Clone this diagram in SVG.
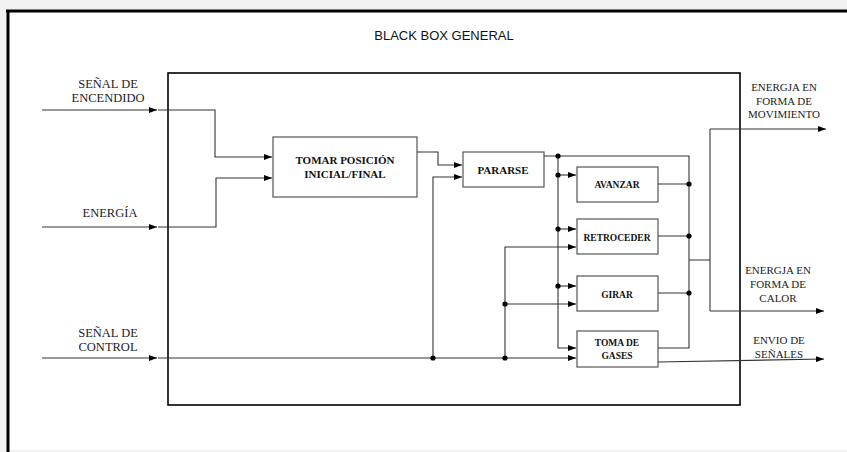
<svg xmlns="http://www.w3.org/2000/svg" width="847" height="452" viewBox="0 0 847 452">
<style>
text{font-family:'Liberation Serif','Times New Roman','DejaVu Serif',serif}
.lbl{font-size:12.5px;fill:#222;text-anchor:middle}
.rlbl{font-size:11px;fill:#222;text-anchor:middle}
.blk{font-weight:bold;fill:#111;text-anchor:middle}
.box{fill:#fff;stroke:#555;stroke-width:1.2}
.wire{fill:none;stroke:#333;stroke-width:1.1}
.dot{fill:#000}
</style>
<defs>
<marker id="arr" markerUnits="userSpaceOnUse" markerWidth="8" markerHeight="6" refX="8" refY="3" orient="auto">
<path d="M0,0 L8,3 L0,6 z" fill="#000"/>
</marker>
</defs>
<rect x="0" y="0" width="847" height="452" fill="#f2f2f2"/>
<rect x="8" y="11" width="839" height="439" fill="#fff"/>
<line x1="6" y1="11" x2="847" y2="11" stroke="#000" stroke-width="3"/>
<line x1="8" y1="10" x2="8" y2="452" stroke="#000" stroke-width="3"/>
<text x="444" y="40" style="font-family:'Liberation Sans',Arial,sans-serif;font-size:13px;fill:#111;text-anchor:middle">BLACK BOX GENERAL</text>
<g id="main-box"><rect x="168" y="73" width="572" height="332" fill="none" stroke="#000" stroke-width="1.6"/></g>
<g id="in-encendido"><text class="lbl" x="108" y="88">SEÑAL DE</text><text class="lbl" x="108" y="102">ENCENDIDO</text></g>
<g id="in-energia"><text class="lbl" x="110" y="217">ENERGÍA</text></g>
<g id="in-control"><text class="lbl" x="108" y="337">SEÑAL DE</text><text class="lbl" x="108" y="351">CONTROL</text></g>
<g id="tomar"><rect class="box" x="273" y="137" width="144" height="60"/><text class="blk" x="345" y="164" font-size="11">TOMAR POSICIÓN</text><text class="blk" x="345" y="178" font-size="11">INICIAL/FINAL</text></g>
<g id="pararse"><rect class="box" x="463" y="152" width="81" height="35"/><text class="blk" x="503" y="174" font-size="11">PARARSE</text></g>
<g id="avanzar"><rect class="box" x="577" y="167" width="81" height="35"/><text class="blk" x="617" y="188" font-size="9.5">AVANZAR</text></g>
<g id="retroceder"><rect class="box" x="577" y="219" width="81" height="35"/><text class="blk" x="617" y="241" font-size="9.5">RETROCEDER</text></g>
<g id="girar"><rect class="box" x="577" y="276" width="81" height="35"/><text class="blk" x="617" y="298" font-size="9.5">GIRAR</text></g>
<g id="toma-gases"><rect class="box" x="577" y="331" width="81" height="36"/><text class="blk" x="617" y="346" font-size="9.5">TOMA DE</text><text class="blk" x="617" y="359" font-size="9.5">GASES</text></g>
<g id="out-movimiento"><text class="rlbl" x="784" y="91">ENERGJA EN</text><text class="rlbl" x="784" y="105">FORMA DE</text><text class="rlbl" x="784" y="118">MOVIMIENTO</text></g>
<g id="out-calor"><text class="rlbl" x="778" y="274">ENERGJA EN</text><text class="rlbl" x="778" y="288">FORMA DE</text><text class="rlbl" x="778" y="302">CALOR</text></g>
<g id="out-senales"><text class="rlbl" x="779" y="344">ENVIO DE</text><text class="rlbl" x="779" y="358">SEÑALES</text></g>
<g id="connectors">
<path class="wire" d="M42,110 H157" marker-end="url(#arr)"/>
<path class="wire" d="M158,110 H215 V157 H272" marker-end="url(#arr)"/>
<path class="wire" d="M42,227 H157" marker-end="url(#arr)"/>
<path class="wire" d="M158,227 H216 V178 H272" marker-end="url(#arr)"/>
<path class="wire" d="M42,358 H157" marker-end="url(#arr)"/>
<path class="wire" d="M158,358 H576" marker-end="url(#arr)"/>
<path class="wire" d="M417,152 H438 V165 H462" marker-end="url(#arr)"/>
<path class="wire" d="M433,358 V177 H462" marker-end="url(#arr)"/>
<path class="wire" d="M505,358 V247 H576" marker-end="url(#arr)"/>
<path class="wire" d="M505,304 H576" marker-end="url(#arr)"/>
<path class="wire" d="M544,156 H689 V348 H658"/>
<path class="wire" d="M558,156 V348 H576" marker-end="url(#arr)"/>
<path class="wire" d="M558,175 H576" marker-end="url(#arr)"/>
<path class="wire" d="M558,229 H576" marker-end="url(#arr)"/>
<path class="wire" d="M558,286 H576" marker-end="url(#arr)"/>
<path class="wire" d="M658,184 H689 M658,236 H689 M658,293 H689 M689,260 H710 M710,129 V311"/>
<path class="wire" d="M710,129 H826" marker-end="url(#arr)"/>
<path class="wire" d="M710,311 H824" marker-end="url(#arr)"/>
<path class="wire" d="M658,362 L824,359" marker-end="url(#arr)"/>
<circle class="dot" cx="433" cy="358" r="2.6"/>
<circle class="dot" cx="505" cy="358" r="2.6"/>
<circle class="dot" cx="505" cy="304" r="2.6"/>
<circle class="dot" cx="558" cy="156" r="2.6"/>
<circle class="dot" cx="558" cy="175" r="2.6"/>
<circle class="dot" cx="558" cy="229" r="2.6"/>
<circle class="dot" cx="558" cy="286" r="2.6"/>
<circle class="dot" cx="689" cy="184" r="2.6"/>
<circle class="dot" cx="689" cy="236" r="2.6"/>
<circle class="dot" cx="689" cy="293" r="2.6"/>
</g>
</svg>
